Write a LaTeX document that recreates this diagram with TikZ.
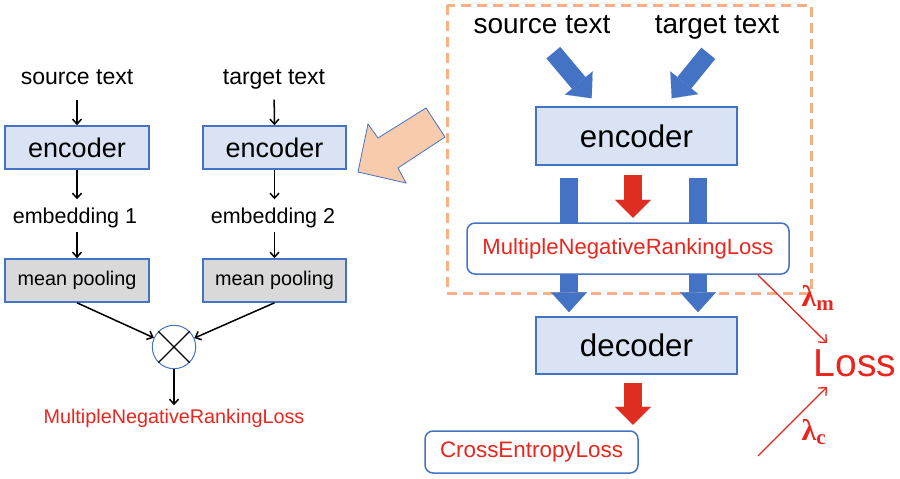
\documentclass[tikz,border=0pt]{standalone}
\usepackage[no-math]{fontspec}
\setmainfont{Liberation Sans}
\newfontfamily\lamfont{Liberation Serif}
\usetikzlibrary{arrows.meta,calc}
\definecolor{bblue}{RGB}{68,114,196}
\definecolor{bfill}{RGB}{218,227,243}
\definecolor{gfill}{RGB}{217,217,217}
\definecolor{rtxt}{RGB}{232,38,30}
\definecolor{rarrow}{RGB}{222,46,34}
\definecolor{orng}{RGB}{244,177,131}
\definecolor{peach}{RGB}{248,203,173}
\newcommand{\fs}[1]{\fontsize{#1}{#1}\selectfont}
\begin{document}
\begin{tikzpicture}[x=1pt,y=-1pt,
  encbox/.style={draw=bblue, line width=1.6pt, fill=bfill, minimum width=144pt, minimum height=43pt, inner sep=0pt},
  poolbox/.style={encbox, fill=gfill},
  lbl/.style={inner sep=0pt, text height=15pt, text depth=4pt},
  blk/.style={line width=1.5pt, -{Straight Barb[length=5pt,width=9pt]}},
  fatblue/.style={bblue, line width=18pt, -{Triangle[length=20pt,width=36pt,line width=0.1pt]}},
  fatred/.style={rarrow, line width=18pt, -{Triangle[length=18pt,width=36pt,line width=0.1pt]}},
  lossbox/.style={draw=bblue, line width=1.5pt, rounded corners=8pt, fill=white, inner sep=0pt, text=rtxt},
  lamline/.style={rtxt, line width=1.3pt, -{Straight Barb[length=6pt,width=11pt]}}
]
\useasboundingbox (0,0) rectangle (900,479);

% ---------- left part ----------
\node[lbl, font=\fs{23}] (src1) at (77,79) {source text};
\node[lbl, font=\fs{23}] (tgt1) at (274,79) {target text};
\node[encbox, font=\fs{27}] (enc1) at (77,147.5) {encoder};
\node[encbox, font=\fs{27}, minimum width=143pt] (enc2) at (274.5,147.5) {encoder};
\node[lbl, font=\fs{21.5}] (emb1) at (75,218) {embedding 1};
\node[lbl, font=\fs{21.5}] (emb2) at (273,218) {embedding 2};
\node[poolbox, font=\fs{19.8}] (mp1) at (77,280.5) {mean pooling};
\node[poolbox, font=\fs{19.8}, minimum width=143pt] (mp2) at (274.5,280.5) {mean pooling};
\node[circle, draw=bblue, line width=1pt, minimum size=43.4pt, inner sep=0pt] (mul) at (174,347) {};
\draw[line width=1.2pt] (mul.north west) -- (mul.south east) (mul.north east) -- (mul.south west);
\node[lbl, font=\fs{19.8}, text=rtxt] (mnrl1) at (174,418) {MultipleNegativeRankingLoss};

\draw[blk, shorten <=11pt] (src1.south) -- (enc1.north);
\draw[blk, shorten <=11pt] (src1.south -| tgt1.south) -- (enc2.north);
\draw[blk, shorten >=9pt] (enc1.south) -- (emb1.north -| enc1.south);
\draw[blk, shorten >=9pt] (enc2.south) -- (emb2.north -| enc2.south);
\draw[blk, shorten <=4pt] (emb1.south -| mp1.north) -- (mp1.north);
\draw[blk, shorten <=4pt] (emb2.south -| mp2.north) -- (mp2.north);
\draw[blk] (mp1.south) -- (mul);
\draw[blk] (mp2.south) -- (mul);
\draw[blk, shorten >=3pt] (mul.south) -- (mnrl1.north);

% big orange arrow
\draw[fill=peach, draw=bblue, line width=0.8pt, line join=miter]
  (358,172) -- (368,124) -- (378,138) -- (426,108) -- (445,137) -- (398,168) -- (406,183) -- cycle;

% ---------- right part ----------
\draw[orng, line width=3pt, dash pattern=on 10pt off 6pt] (447,5) rectangle (811,293);

\node[lbl, font=\fs{28}] (src2) at (542,28) {source text};
\node[lbl, font=\fs{28}] (tgt2) at (717,28) {target text};
\node[encbox, font=\fs{31.3}, minimum width=201pt, minimum height=58pt] (renc) at (636.5,136) {encoder};
\node[encbox, font=\fs{31.3}, minimum width=201pt, minimum height=57pt] (rdec) at (636.5,345.5) {decoder};

\coordinate (sa) at (553.3,52.7);
\coordinate (sb) at (591.7,98.3);
\coordinate (ta) at (708.3,53.3);
\coordinate (tb) at (671.7,98.3);
\draw[fatblue] (sa) -- (sb);
\draw[fatblue] (ta) -- (tb);

\draw[fatblue] ($(renc.south)+(-67.5,12)$) -- ($(rdec.north)+(-67.5,-4)$);
\draw[fatblue] ($(renc.south)+(61.5,12)$) -- ($(rdec.north)+(61.5,-4)$);
\draw[fatred] ($(renc.south)+(-3.5,9)$) -- ($(renc.south)+(-3.5,52)$);

\node[lossbox, font=\fs{22.1}, minimum width=322pt, minimum height=51pt] (mnrl2) at (628,248.5) {MultipleNegativeRankingLoss};

\draw[fatred] ($(rdec.south)+(-3.5,8)$) -- ($(rdec.south)+(-3.5,50)$);
\node[lossbox, font=\fs{22.4}, minimum width=213pt, minimum height=42pt] (ce) at (531.5,452) {CrossEntropyLoss};

\node[inner sep=0pt, font=\fs{39}, text=rtxt] (loss) at (855,363) {Loss};
\coordinate (m1) at (758,275);
\coordinate (m2) at (827,343);
\coordinate (c1) at (758,456);
\coordinate (c2) at (827,387);
\draw[lamline] (m1) -- (m2);
\draw[lamline] (c1) -- (c2);
\node[inner sep=0pt, text=rtxt, font=\fs{30}\lamfont\bfseries] (lm) at (818,298) {λ\textsubscript{m}};
\node[inner sep=0pt, text=rtxt, font=\fs{30}\lamfont\bfseries] (lc) at (814,432) {λ\textsubscript{c}};
\end{tikzpicture}
\end{document}
